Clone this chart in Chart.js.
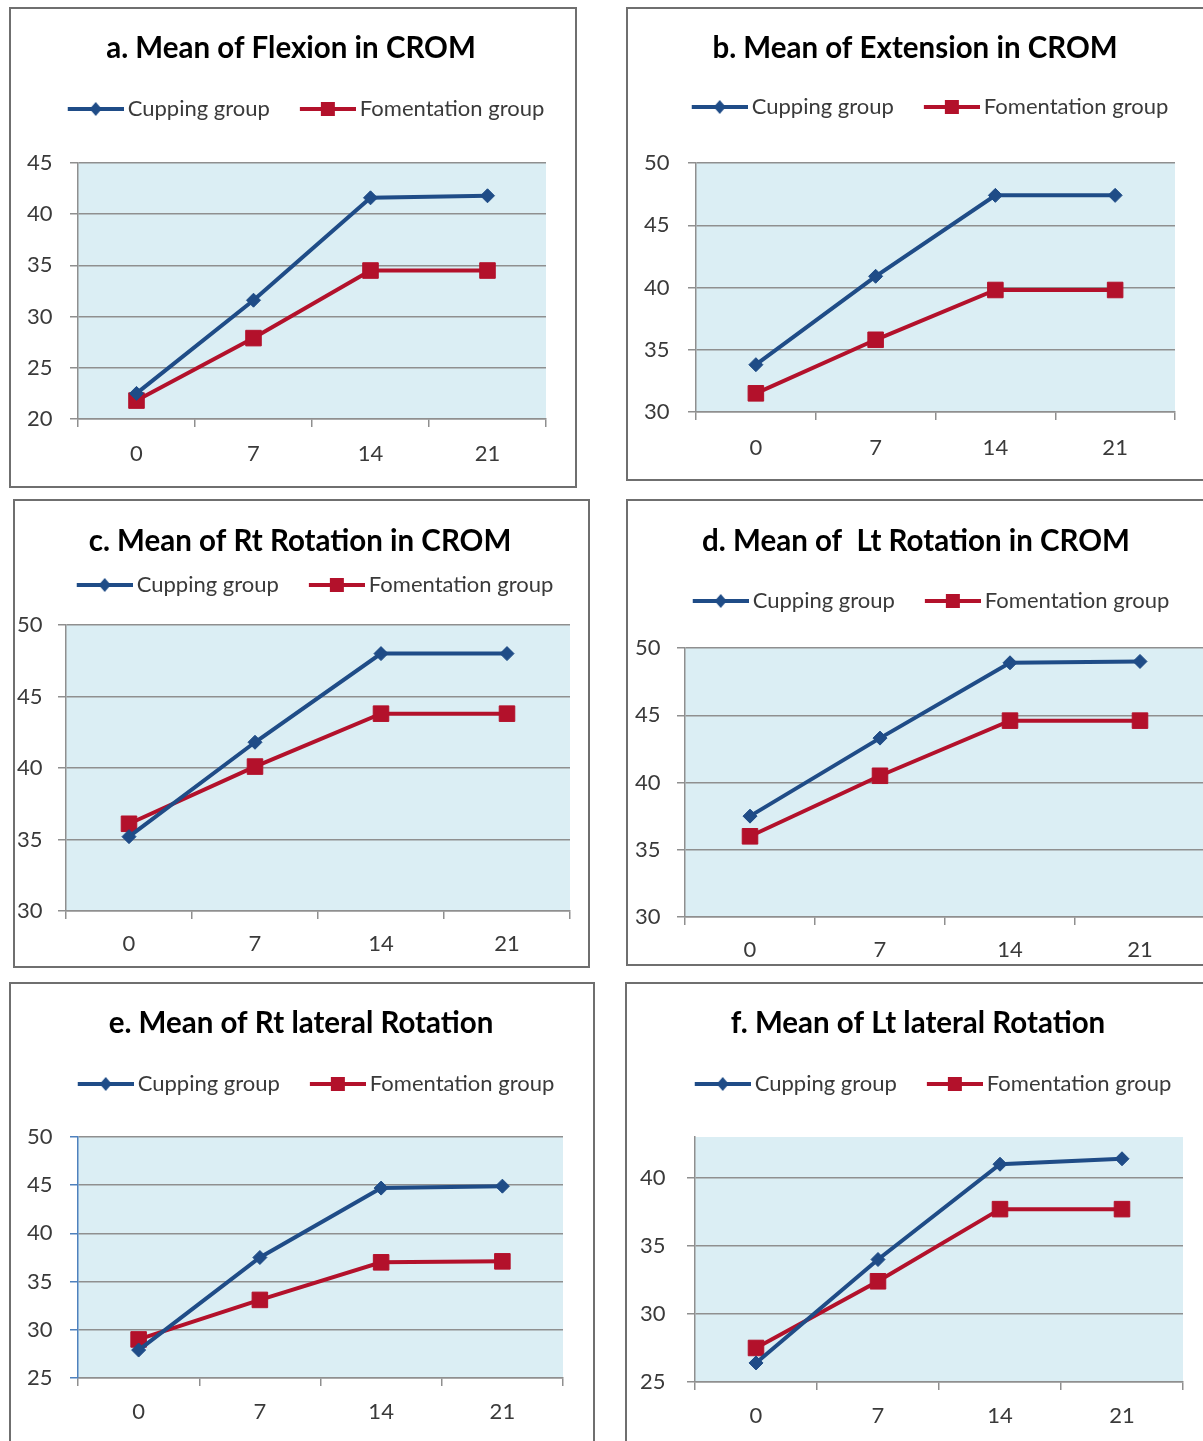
<!DOCTYPE html>
<html>
<head>
<meta charset="utf-8">
<script src="https://cdn.jsdelivr.net/npm/chart.js@4.4.0/dist/chart.umd.min.js"></script>
<style>
  html, body { margin: 0; padding: 0; background: #fff; overflow: hidden; }
  body { width: 1203px; height: 1441px; position: relative; }
  canvas { position: absolute; }
  .frame { position: absolute; border: 2px solid #6f6f6f; box-sizing: border-box; pointer-events: none; }
</style>
</head>
<body>
<script>
// ---- data ----
var days = ["0", "7", "14", "21"];
var seriesNames = ["Cupping group", "Fomentation group"];
var titles = [
  "a. Mean of Flexion in CROM",
  "b. Mean of Extension in CROM",
  "c. Mean of Rt Rotation in CROM",
  "d. Mean of  Lt Rotation in CROM",
  "e. Mean of Rt lateral Rotation",
  "f. Mean of Lt lateral Rotation"
];

var flexionCupping = [22.5, 31.6, 41.6, 41.8];
var flexionFomentation = [21.8, 27.9, 34.5, 34.5];
var extensionCupping = [33.8, 40.9, 47.4, 47.4];
var extensionFomentation = [31.5, 35.8, 39.8, 39.8];
var rtRotationCupping = [35.2, 41.8, 48.0, 48.0];
var rtRotationFomentation = [36.1, 40.1, 43.8, 43.8];
var ltRotationCupping = [37.5, 43.3, 48.9, 49.0];
var ltRotationFomentation = [36.0, 40.5, 44.6, 44.6];
var rtLateralCupping = [27.9, 37.5, 44.7, 44.9];
var rtLateralFomentation = [29.0, 33.1, 37.0, 37.1];
var ltLateralCupping = [26.4, 34.0, 41.0, 41.4];
var ltLateralFomentation = [27.5, 32.4, 37.7, 37.7];

var yMins = [20, 30, 30, 30, 25, 25];
var yMaxs = [45, 50, 50, 50, 50, 43];
var yStep = 5;

// ---- styling ----
var BLUE = "#1f4c87";
var RED = "#b3112b";
var PLOT_BG = "#dbeef4";
var GRID = "#8f8f8f";
var TEXT = "#3a3a3a";
var FONT = "Lato";
var TITLE_SIZE = 29.5;
var LEG_SIZE = 22;
var TICK_SIZE = 22;
var LEG_PAD = 0;
var LINE_LEN = 56;
var BOX_W = 79;

// panel geometry: box [x, y, w, h], plot [left, right, top, bottom]
var panels = [
  { box: [10, 8, 566, 479], plot: [78, 546, 163, 419], titleX: 291, titleY: 48, legendY: 109, xLabelY: 454, yLabelX: 27,
    cupping: flexionCupping, fomentation: flexionFomentation },
  { box: [627, 8, 590, 472], plot: [696, 1175, 163, 412], titleX: 915, titleY: 48, legendY: 107, xLabelY: 448, yLabelX: 644,
    cupping: extensionCupping, fomentation: extensionFomentation },
  { box: [14, 500, 575, 467], plot: [66, 570, 625, 911], titleX: 300, titleY: 541, legendY: 585, xLabelY: 944, yLabelX: 17,
    cupping: rtRotationCupping, fomentation: rtRotationFomentation },
  { box: [627, 500, 600, 465], plot: [685, 1205, 648, 917], titleX: 915, titleY: 541, legendY: 601, xLabelY: 950, yLabelX: 635,
    cupping: ltRotationCupping, fomentation: ltRotationFomentation },
  { box: [10, 983, 584, 478], plot: [78, 563, 1137, 1378], titleX: 301, titleY: 1023, legendY: 1084, xLabelY: 1412, yLabelX: 27,
    cupping: rtLateralCupping, fomentation: rtLateralFomentation, yAxisColor: "#4f81bd" },
  { box: [626, 983, 590, 478], plot: [695, 1183, 1137, 1382], titleX: 918, titleY: 1023, legendY: 1084, xLabelY: 1416, yLabelX: 640,
    cupping: ltLateralCupping, fomentation: ltLateralFomentation }
];

// legend icon: line with the series marker in its middle
function legendIcon(color, style) {
  var iw = BOX_W + LEG_SIZE - 8;
  var c = document.createElement("canvas");
  c.width = iw; c.height = 18;
  var g = c.getContext("2d");
  g.strokeStyle = color; g.fillStyle = color; g.lineWidth = 4;
  g.beginPath(); g.moveTo(iw - LINE_LEN, 9); g.lineTo(iw, 9); g.stroke();
  var cx = iw - LINE_LEN / 2;
  if (style === "rect") {
    g.fillRect(cx - 7, 2, 14, 14);
  } else {
    g.beginPath(); g.moveTo(cx, 2); g.lineTo(cx + 6, 9); g.lineTo(cx, 16); g.lineTo(cx - 6, 9); g.closePath(); g.fill();
  }
  return c;
}
var icons = [legendIcon(BLUE, "diamond"), legendIcon(RED, "rect")];

var plotBackground = {
  id: "plotBackground",
  beforeDraw: function(chart) {
    var a = chart.chartArea, ctx = chart.ctx;
    ctx.save();
    ctx.fillStyle = PLOT_BG;
    ctx.fillRect(a.left, a.top, a.right - a.left, a.bottom - a.top);
    ctx.restore();
  }
};

panels.forEach(function(p, i) {
  var bx = p.box[0], by = p.box[1], W = p.box[2], H = p.box[3];

  var frame = document.createElement("div");
  frame.className = "frame";
  frame.style.left = (bx - 1) + "px"; frame.style.top = (by - 1) + "px";
  frame.style.width = (W + 2) + "px"; frame.style.height = (H + 2) + "px";

  var canvas = document.createElement("canvas");
  canvas.width = W; canvas.height = H;
  canvas.style.left = bx + "px"; canvas.style.top = by + "px";
  document.body.appendChild(canvas);
  document.body.appendChild(frame);

  var padR = bx + W - p.plot[1];
  var padL = Math.max(0, 2 * p.titleX - bx - p.plot[1]);
  var yWidth = p.plot[0] - bx - padL;
  var titleTop = p.titleY - by - TITLE_SIZE / 2;
  var titleBottom = p.legendY - LEG_PAD - LEG_SIZE / 2 - p.titleY - TITLE_SIZE / 2;
  var gap = p.plot[2] - (p.legendY + LEG_SIZE / 2 + 10);
  var xHeight = by + H - p.plot[3];
  var xPad = p.xLabelY - p.plot[3] - 8 - TICK_SIZE * 0.6;
  var axisColor = p.yAxisColor || GRID;

  new Chart(canvas, {
    type: "line",
    data: {
      labels: days,
      datasets: [
        { label: seriesNames[0], data: p.cupping, borderColor: BLUE, backgroundColor: BLUE,
          borderWidth: 4, pointStyle: "rectRot", pointRadius: 7, pointBorderWidth: 1, tension: 0 },
        { label: seriesNames[1], data: p.fomentation, borderColor: RED, backgroundColor: RED,
          borderWidth: 4, pointStyle: "rect", pointRadius: 11, pointBorderWidth: 1, tension: 0 }
      ]
    },
    options: {
      responsive: false,
      animation: false,
      events: [],
      layout: { padding: { left: padL, right: padR, top: 0, bottom: 0 } },
      plugins: {
        title: {
          display: true, text: titles[i], color: "#000",
          font: { family: FONT, size: TITLE_SIZE, weight: "bold", lineHeight: 1 },
          padding: { top: titleTop, bottom: titleBottom }
        },
        legend: {
          display: true, position: "top",
          labels: {
            usePointStyle: true, pointStyleWidth: BOX_W, boxHeight: LEG_SIZE,
            padding: LEG_PAD, color: TEXT,
            font: { family: FONT, size: LEG_SIZE },
            generateLabels: function(chart) {
              return chart.data.datasets.map(function(ds, k) {
                return { text: ds.label, pointStyle: icons[k], datasetIndex: k, lineWidth: 0,
                         strokeStyle: "rgba(0,0,0,0)", fillStyle: "rgba(0,0,0,0)", fontColor: TEXT, hidden: false };
              });
            }
          }
        },
        subtitle: {
          display: true, text: "", weight: 500,
          font: { size: 1, lineHeight: 1 },
          padding: { top: gap - 1, bottom: 0 }
        },
        tooltip: { enabled: false }
      },
      scales: {
        x: {
          offset: true,
          grid: { display: true, offset: true, drawOnChartArea: false, drawTicks: true, tickLength: 8, color: GRID, lineWidth: 1.5 },
          border: { display: true, color: GRID, width: 1.5 },
          ticks: { color: TEXT, font: { family: FONT, size: TICK_SIZE }, padding: xPad, maxRotation: 0, autoSkip: false },
          afterFit: function(s) { s.height = xHeight; }
        },
        y: {
          min: yMins[i], max: yMaxs[i],
          ticks: { stepSize: yStep, color: TEXT, font: { family: FONT, size: TICK_SIZE },
                   mirror: true, padding: p.yLabelX - p.plot[0] },
          grid: { color: GRID, lineWidth: 1.5, tickLength: 8, tickColor: axisColor },
          border: { display: true, color: axisColor, width: 1.5 },
          afterBuildTicks: function(s) {
            s.ticks = s.ticks.filter(function(t) { return t.value % yStep === 0; });
          },
          afterFit: function(s) { s.width = yWidth; }
        }
      }
    },
    plugins: [plotBackground]
  });
});
</script>
</body>
</html>
